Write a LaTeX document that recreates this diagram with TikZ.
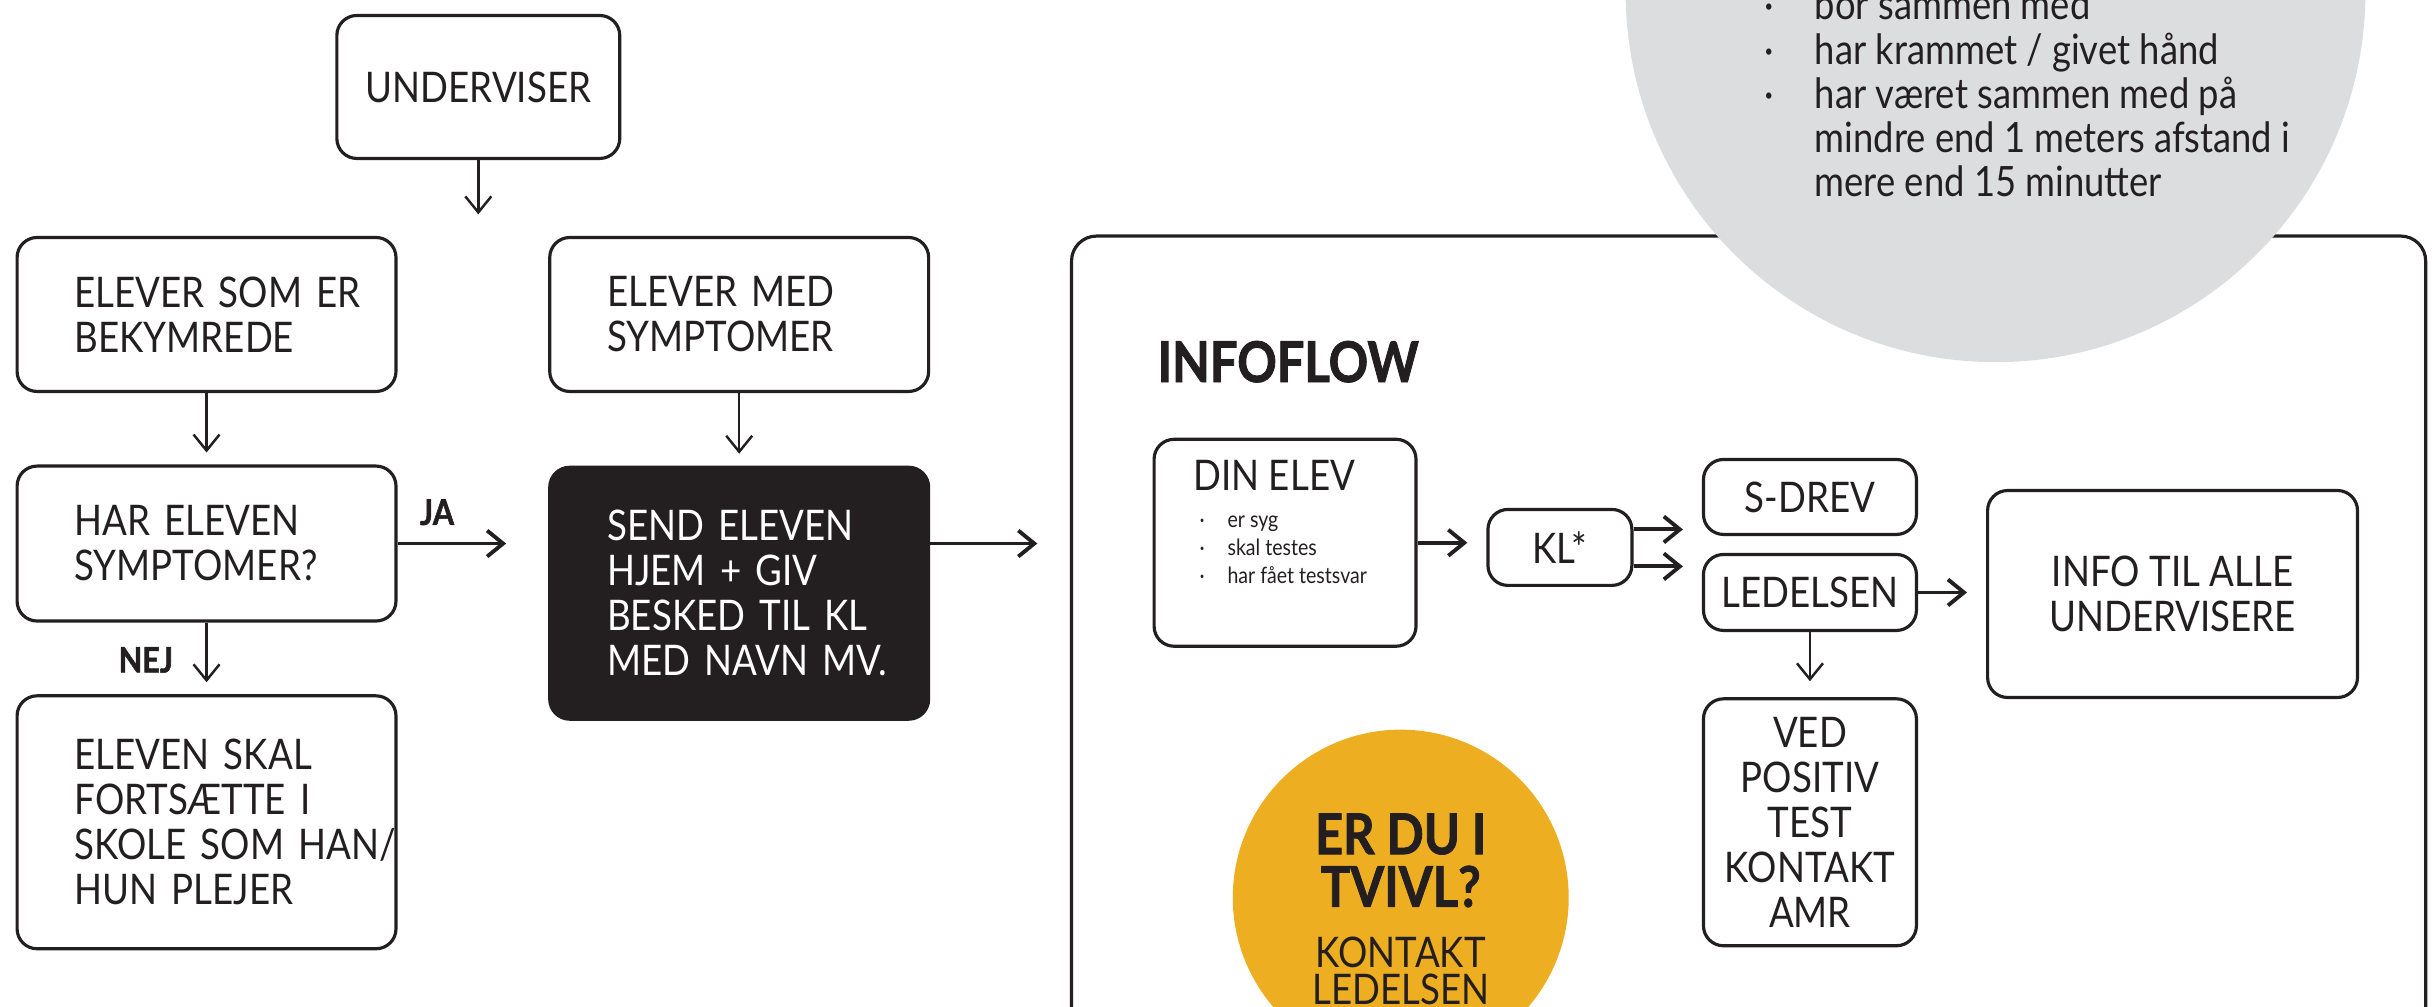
\documentclass[tikz,border=0pt]{standalone}
\usepackage{fontspec}
\setmainfont{Lato}[FakeStretch=0.87]
\newfontfamily\heavyfont{Lato}[FakeStretch=0.87, BoldFeatures={FakeBold=1.5}]
\usepackage{tikz}
\usetikzlibrary{arrows.meta, positioning, calc}
\usepackage{xcolor}
\definecolor{ink}{HTML}{231F20}
\definecolor{cloudgrey}{HTML}{DCDDDE}
\definecolor{tvivlgold}{HTML}{EEAE21}

\newcommand{\bodyfont}{\fontsize{12}{12.8}\selectfont}
\newcommand{\tinyfont}{\fontsize{6.4}{7.9}\selectfont}
\newcommand{\cloudfont}{\fontsize{11.9}{12.6}\selectfont}
\newcommand{\pt}{\makebox[0.5cm][l]{·}}
\newcommand{\spt}{\makebox[0.28cm][l]{·}}

\tikzset{
  flowbox/.style={draw=ink, line width=0.9pt, rounded corners=0.2cm, text=ink, font=\bodyfont},
  leftbox/.style={flowbox, align=left, text width=2.64cm, inner xsep=0.575cm, minimum width=3.79cm},
  midbox/.style={flowbox, align=center, inner sep=0pt},
  arr/.style={-{Straight Barb[length=0.16cm, width=0.26cm]}, line width=0.7pt, draw=ink},
  thickarr/.style={arr, line width=1.1pt},
  tag/.style={text=ink, inner sep=0pt, font=\heavyfont\bfseries\fontsize{10}{11}\selectfont}
}

\begin{document}
\begin{tikzpicture}[x=0.01553cm, y=-0.01553cm]
  \useasboundingbox (0,0) rectangle (1568,648);
  % infoflow ramme
  \draw[ink, line width=0.9pt, rounded corners=0.25cm] (690,720) -- (690,152) -- (1562,152) -- (1562,720);
  % naer kontakt (graa cirkel)
  \fill[cloudgrey] (1285,-5) circle (3.70cm);
  \node[anchor=west, align=left, inner sep=0pt, text=ink, font=\cloudfont] (naer) at (1136,60)
    {\pt bor sammen med\\ \pt har krammet / givet hånd\\ \pt har været sammen med på\\
     \hspace*{0.5cm}mindre end 1 meters afstand i\\ \hspace*{0.5cm}mere end 15 minutter};

  % venstre flow
  \node[midbox, minimum width=2.83cm, minimum height=1.43cm] (und) at (308,56) {UNDERVISER};
  \coordinate (undend) at (308,138);
  \node[leftbox, minimum height=1.54cm] (bek) at (133,202.5) {ELEVER~SOM~ER\\BEKYMREDE};
  \node[leftbox, minimum height=1.54cm] (med) at (476,202.5) {ELEVER~MED\\SYMPTOMER};
  \node[leftbox, minimum height=1.55cm] (har) at (133,350) {HAR~ELEVEN\\SYMPTOMER?};
  \node[leftbox, minimum height=2.52cm, fill=ink, text=white] (send) at (476,382)
    {SEND~ELEVEN\\HJEM~+~GIV\\BESKED~TIL~KL\\MED~NAVN~MV.};
  \node[leftbox, minimum height=2.53cm] (skal) at (133,529.5)
    {ELEVEN~SKAL\\FORTSÆTTE~I\\SKOLE~SOM~HAN/\\HUN~PLEJER};
  \node[tag, anchor=base west] (ja) at (270,338) {JA};
  \node[tag, anchor=base west] (nej) at (76,433) {NEJ};
  \coordinate (infoin) at (668,350);

  \draw[arr] (und) -- (undend);
  \draw[arr, shorten >=0.12cm] (bek) -- (har);
  \draw[arr, shorten >=0.12cm] (med) -- (send);
  \draw[thickarr, shorten >=0.42cm] (har) -- (send.west |- har);
  \draw[thickarr] (send.east |- har) -- (infoin);
  \draw[arr, shorten >=0.12cm] (har) -- (skal);

  % infoflow
  \node[anchor=base west, inner sep=0pt, text=ink, font=\heavyfont\bfseries\fontsize{16}{16}\selectfont] (infoflow) at (745,246) {INFOFLOW};
  \node[flowbox, minimum width=2.62cm, minimum height=2.07cm] (din) at (827.5,349.5) {};
  \node[anchor=north west, inner sep=0pt, text=ink, font=\bodyfont] (dintitle) at (768,296) {DIN ELEV};
  \node[anchor=north west, align=left, inner sep=0pt, text=ink, font=\tinyfont] (dinlist) at (772,332)
    {\spt er syg\\ \spt skal testes\\ \spt har fået testsvar};
  \node[midbox, minimum width=1.44cm, minimum height=0.76cm] (kl) at (1004.5,352.5) {KL*};
  \node[midbox, minimum width=2.13cm, minimum height=0.75cm] (sdrev) at (1165.5,320) {S-DREV};
  \node[midbox, minimum width=2.13cm, minimum height=0.76cm] (led) at (1165.5,381.5) {LEDELSEN};
  \node[midbox, minimum width=3.70cm, minimum height=2.07cm] (info) at (1399,382.5) {INFO TIL ALLE\\UNDERVISERE};
  \node[midbox, minimum width=2.13cm, minimum height=2.47cm] (ved) at (1165.5,529.5) {VED\\POSITIV\\TEST\\KONTAKT\\AMR};

  \draw[thickarr, shorten >=0.19cm] (din) -- (kl.west |- din);
  \draw[thickarr, shorten >=0.19cm] ([yshift=0.18cm]kl.east) -- ([yshift=0.18cm]kl.east -| sdrev.west);
  \draw[thickarr, shorten >=0.19cm] ([yshift=-0.19cm]kl.east) -- ([yshift=-0.19cm]kl.east -| led.west);
  \draw[thickarr, shorten >=0.19cm] (led) -- (info.west |- led);
  \draw[arr, shorten >=0.16cm] (led) -- (ved);

  % er du i tvivl
  \fill[tvivlgold] (902,578) circle (1.68cm);
  \node[align=center, inner sep=0pt, text=ink, font=\heavyfont\bfseries\fontsize{16}{15}\selectfont] (tvivl) at (902,554) {ER DU I\\TVIVL?};
  \node[align=center, inner sep=0pt, text=ink, font=\fontsize{12}{10.6}\selectfont] (kontakt) at (902,625) {KONTAKT\\LEDELSEN};
\end{tikzpicture}
\end{document}
